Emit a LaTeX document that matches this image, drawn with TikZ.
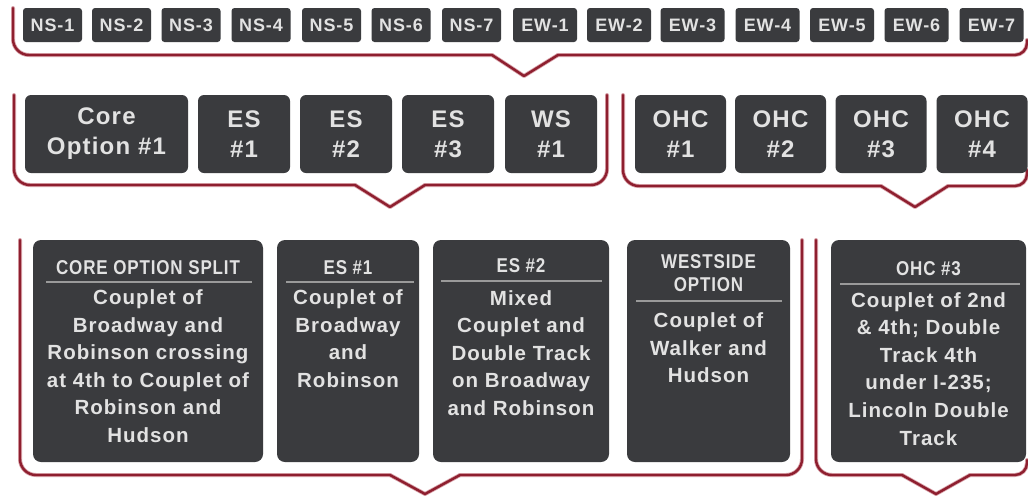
\documentclass[tikz,border=0pt]{standalone}
\usepackage{fontspec}
\usepackage{graphicx}
\setmainfont{Liberation Sans}[LetterSpace=5]
\newcommand{\cond}[1]{\scalebox{0.85}[1]{#1}}
\definecolor{boxc}{HTML}{3A3B3E}
\definecolor{txtc}{HTML}{E2E2E2}
\definecolor{brkc}{HTML}{8E1F2F}
\definecolor{brkh}{HTML}{D9A3AA}
\definecolor{sepc}{HTML}{9A9A9A}
\begin{document}
\begin{tikzpicture}[x=1pt,y=-1pt,
  topbox/.style={fill=boxc, rounded corners=3pt, minimum height=34pt, inner sep=0pt,
    text=txtc, font=\bfseries\fontsize{18}{20}\selectfont},
  midbox/.style={fill=boxc, rounded corners=6pt, minimum height=78pt, inner sep=0pt,
    text=txtc, align=center, font=\bfseries\fontsize{24}{30}\selectfont},
  botbox/.style={fill=boxc, rounded corners=8pt, minimum height=222pt, inner sep=0pt},
  hdtext/.style={text=txtc, align=center, inner sep=0pt, anchor=north,
    font=\bfseries\fontsize{20}{23}\selectfont},
  bodytext/.style={text=txtc, align=center, inner sep=0pt, anchor=north,
    font=\bfseries\fontsize{20.5}{27.6}\selectfont},
  sepline/.style={draw=sepc, line width=1.5pt},
  brkhalo/.style={draw=brkh, line width=4pt, line cap=round, line join=round},
  brkline/.style={draw=brkc, line width=2.4pt, line cap=round, line join=round}
]
\useasboundingbox[fill=white] (0,0) rectangle (1028,496);

% ---------- brackets ----------
\foreach \s in {brkhalo,brkline}{
  % top bracket
  \draw[\s, rounded corners=16pt] (13,8) -- (13,55) -- (492,55);
  \draw[\s] (492,55) -- (524,76) -- (558,55);
  \draw[\s, rounded corners=12pt] (558,55) -- (1027,55) -- (1027,40);
  % middle left bracket
  \draw[\s, rounded corners=16pt] (14,95) -- (14,185) -- (355,185);
  \draw[\s] (355,185) -- (390,207) -- (425,185);
  \draw[\s, rounded corners=16pt] (425,185) -- (607,185) -- (607,95);
  % middle right bracket
  \draw[\s, rounded corners=16pt] (623,95) -- (623,186) -- (881,186);
  \draw[\s] (881,186) -- (915,207) -- (948,186);
  \draw[\s, rounded corners=12pt] (948,186) -- (1027,186) -- (1027,170);
  % bottom left bracket
  \draw[\s, rounded corners=16pt] (20,240) -- (20,475) -- (390,475);
  \draw[\s] (390,475) -- (425,494) -- (460,475);
  \draw[\s, rounded corners=16pt] (460,475) -- (802,475) -- (802,240);
  % bottom right bracket
  \draw[\s, rounded corners=16pt] (816,240) -- (816,475) -- (902,475);
  \draw[\s] (902,475) -- (936,494) -- (970,475);
  \draw[\s, rounded corners=12pt] (970,475) -- (1027,475) -- (1027,460);
}

% ---------- top row ----------
\node[topbox, minimum width=59pt] (t1) at (52.5,25) {NS-1};
\node[topbox, minimum width=59pt] (t2) at (121.5,25) {NS-2};
\node[topbox, minimum width=59pt] (t3) at (191,25) {NS-3};
\node[topbox, minimum width=59pt] (t4) at (261,25) {NS-4};
\node[topbox, minimum width=59pt] (t5) at (331.5,25) {NS-5};
\node[topbox, minimum width=59pt] (t6) at (401,25) {NS-6};
\node[topbox, minimum width=59pt] (t7) at (471.5,25) {NS-7};
\node[topbox, minimum width=64pt] (t8) at (545,25) {EW-1};
\node[topbox, minimum width=64pt] (t9) at (619,25) {EW-2};
\node[topbox, minimum width=64pt] (t10) at (692.5,25) {EW-3};
\node[topbox, minimum width=64pt] (t11) at (767.5,25) {EW-4};
\node[topbox, minimum width=64pt] (t12) at (842,25) {EW-5};
\node[topbox, minimum width=64pt] (t13) at (916.5,25) {EW-6};
\node[topbox, minimum width=64pt] (t14) at (991.5,25) {EW-7};

% ---------- middle row ----------
\node[midbox, minimum width=163pt] (m1) at (106.5,134) {Core\\Option \#1};
\node[midbox, minimum width=92pt] (m2) at (244,134) {ES\\\#1};
\node[midbox, minimum width=92pt] (m3) at (346,134) {ES\\\#2};
\node[midbox, minimum width=92pt] (m4) at (448,134) {ES\\\#3};
\node[midbox, minimum width=92pt] (m5) at (551,134) {WS\\\#1};
\node[midbox, minimum width=91pt] (m6) at (680.5,134) {OHC\\\#1};
\node[midbox, minimum width=91pt] (m7) at (780.5,134) {OHC\\\#2};
\node[midbox, minimum width=91pt] (m8) at (881,134) {OHC\\\#3};
\node[midbox, minimum width=91pt] (m9) at (982,134) {OHC\\\#4};

% ---------- bottom row ----------
\node[botbox, minimum width=230pt] (b1) at (148,351) {};
\node[botbox, minimum width=142pt] (b2) at (348,351) {};
\node[botbox, minimum width=176pt] (b3) at (521,351) {};
\node[botbox, minimum width=163pt] (b4) at (708.5,351) {};
\node[botbox, minimum width=195pt] (b5) at (928.5,351) {};

\node[hdtext] (b1h) at (148,260.7) {\cond{CORE OPTION SPLIT}};
\node[hdtext] (b2h) at (348,260.7) {\cond{ES \#1}};
\node[hdtext] (b3h) at (521,258.7) {\cond{ES \#2}};
\node[hdtext] (b4h) at (708.5,254.7) {\cond{WESTSIDE}\\\cond{OPTION}};
\node[hdtext] (b5h) at (928.5,261.7) {\cond{OHC \#3}};

\draw[sepline] (46,282) -- (252,282);
\draw[sepline] (286,282) -- (414,282);
\draw[sepline] (441,281) -- (602,281);
\draw[sepline] (636,301) -- (782,301);
\draw[sepline] (840,284) -- (1020,284);

\node[bodytext] (b1t) at (148,289.5) {Couplet of\\Broadway and\\Robinson crossing\\at 4th to Couplet of\\Robinson and\\Hudson};
\node[bodytext] (b2t) at (348,289.5) {Couplet of\\Broadway\\and\\Robinson};
\node[bodytext] (b3t) at (521,290) {Mixed\\Couplet and\\Double Track\\on Broadway\\and Robinson};
\node[bodytext] (b4t) at (708.5,312.5) {Couplet of\\Walker and\\Hudson};
\node[bodytext] (b5t) at (928.5,292) {Couplet of 2nd\\\& 4th; Double\\Track 4th\\under I-235;\\Lincoln Double\\Track};
\end{tikzpicture}
\end{document}
